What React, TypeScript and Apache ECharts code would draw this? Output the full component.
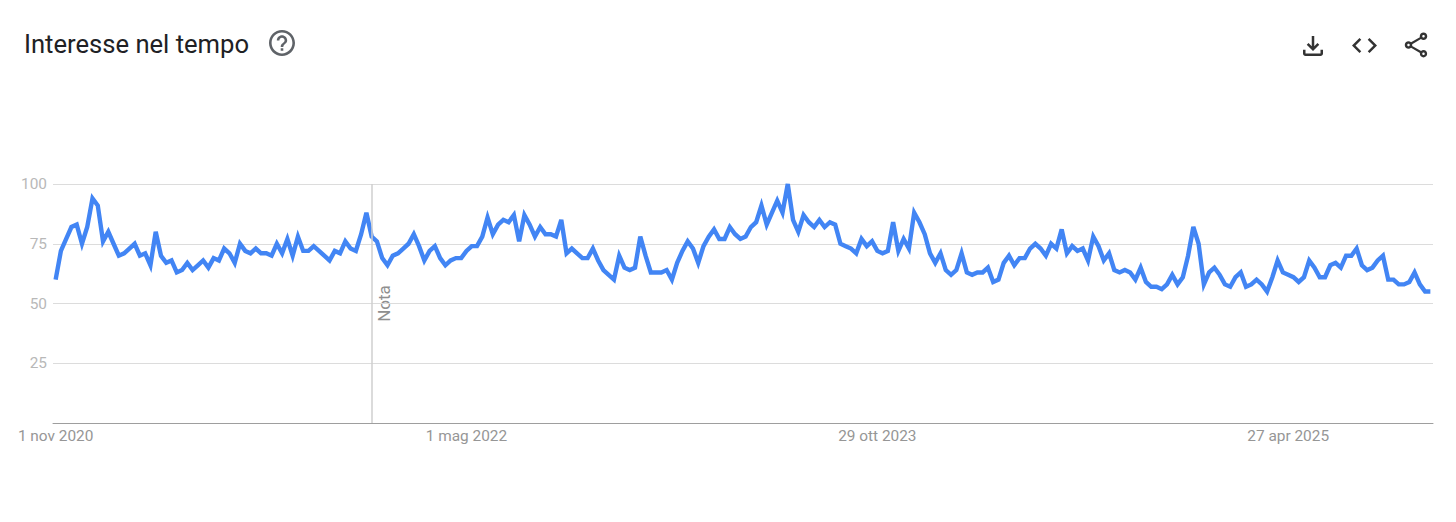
import React, { useEffect, useRef } from "react";
import * as echarts from "echarts";

const MONTHS = ["gen", "feb", "mar", "apr", "mag", "giu", "lug", "ago", "set", "ott", "nov", "dic"];
const title = "Interesse nel tempo";
const noteLabel = "Nota";
const noteIndex = 60;
const tickLabels = ["1 nov 2020", "1 mag 2022", "29 ott 2023", "27 apr 2025"];
const yTicks = [25, 50, 75, 100];

const interest = [
  60, 72, 77, 82, 83, 75, 82, 94, 91, 76, 80, 75, 70, 71, 73, 75, 70, 71, 66, 80,
  70, 67, 68, 63, 64, 67, 64, 66, 68, 65, 69, 68, 73, 71, 67, 75, 72, 71, 73, 71,
  71, 70, 75, 71, 77, 70, 78, 72, 72, 74, 72, 70, 68, 72, 71, 76, 73, 72, 79, 88,
  78, 76, 69, 66, 70, 71, 73, 75, 79, 74, 68, 72, 74, 69, 66, 68, 69, 69, 72, 74,
  74, 78, 86, 79, 83, 85, 84, 87, 76, 87, 83, 78, 82, 79, 79, 78, 85, 71, 73, 71,
  69, 69, 73, 68, 64, 62, 60, 70, 65, 64, 65, 78, 70, 63, 63, 63, 64, 60, 67, 72,
  76, 73, 67, 74, 78, 81, 77, 77, 82, 79, 77, 78, 82, 84, 91, 83, 88, 93, 88, 100,
  85, 80, 87, 84, 82, 85, 82, 84, 83, 75, 74, 73, 71, 77, 74, 76, 72, 71, 72, 84,
  72, 77, 73, 88, 84, 79, 71, 67, 71, 64, 62, 64, 71, 63, 62, 63, 63, 65, 59, 60,
  67, 70, 66, 69, 69, 73, 75, 73, 70, 75, 73, 81, 71, 74, 72, 73, 68, 78, 74, 68,
  71, 64, 63, 64, 63, 60, 65, 59, 57, 57, 56, 58, 62, 58, 61, 70, 82, 75, 58, 63,
  65, 62, 58, 57, 61, 63, 57, 58, 60, 58, 55, 61, 68, 63, 62, 61, 59, 61, 68, 65,
  61, 61, 66, 67, 65, 70, 70, 73, 66, 64, 65, 68, 70, 60, 60, 58, 58, 59, 63, 58,
  55, 55,
];

const ICONS: Record<string, string> = {
  gtHelp: "M11 18h2v-2h-2v2zm1-16C6.48 2 2 6.48 2 12s4.48 10 10 10 10-4.48 10-10S17.52 2 12 2zm0 18c-4.41 0-8-3.59-8-8s3.59-8 8-8 8 3.59 8 8-3.59 8-8 8zm0-14c-2.21 0-4 1.79-4 4h2c0-1.1.9-2 2-2s2 .9 2 2c0 2-3 1.75-3 5h2c0-2.25 3-2.5 3-5 0-2.21-1.79-4-4-4z",
  gtDownload: "M18 15v3H6v-3H4v3c0 1.1.9 2 2 2h12c1.1 0 2-.9 2-2v-3h-2zm-1-4l-1.41-1.41L13 12.17V4h-2v8.17L8.41 9.59 7 11l5 5 5-5z",
  gtCode: "M9.4 16.6L4.8 12l4.6-4.6L8 6l-6 6 6 6 1.4-1.4zm5.2 0l4.6-4.6-4.6-4.6L16 6l6 6-6 6-1.4-1.4z",
  gtShare: "M18 16.08c-.76 0-1.44.3-1.96.77L8.91 12.7c.05-.23.09-.46.09-.7s-.04-.47-.09-.7l7.05-4.11c.54.5 1.25.81 2.04.81 1.66 0 3-1.34 3-3s-1.34-3-3-3-3 1.34-3 3c0 .24.04.47.09.7L8.04 9.81C7.5 9.31 6.79 9 6 9c-1.66 0-3 1.34-3 3s1.34 3 3 3c.79 0 1.5-.31 2.04-.81l7.12 4.16c-.05.21-.08.43-.08.65 0 1.61 1.31 2.92 2.92 2.92s2.92-1.31 2.92-2.92-1.31-2.92-2.92-2.92zM18 4c.55 0 1 .45 1 1s-.45 1-1 1-1-.45-1-1 .45-1 1-1zM6 13c-.55 0-1-.45-1-1s.45-1 1-1 1 .45 1 1-.45 1-1 1zm12 7.02c-.55 0-1-.45-1-1s.45-1 1-1 1 .45 1 1-.45 1-1 1z",
};
Object.keys(ICONS).forEach((k) => echarts.graphic.registerShape(k, echarts.graphic.extendPath(ICONS[k], {}) as any));

const categories = interest.map((_, i) => {
  const d = new Date(Date.UTC(2020, 10, 1 + i * 7));
  return `${d.getUTCDate()} ${MONTHS[d.getUTCMonth()]} ${d.getUTCFullYear()}`;
});

const FONT = "Roboto";

export default function App() {
  const ref = useRef<HTMLDivElement>(null);
  useEffect(() => {
    const chart = echarts.init(ref.current!, undefined, { renderer: "svg" });
    const icon = (type: string, x: number, y: number, s: number, fill: string) => ({
      type, x, y, scaleX: s, scaleY: s, style: { fill },
    });
    chart.setOption({
      animation: false,
      backgroundColor: "#fff",
      grid: { left: 53, right: 23, top: 184, bottom: 99, containLabel: false },
      title: {
        text: title, left: 19, top: 26,
        textStyle: { fontFamily: FONT, fontSize: 25.6, fontWeight: 400, color: "#202124" },
      },
      xAxis: {
        type: "category",
        data: categories,
        boundaryGap: true,
        axisLine: { lineStyle: { color: "#9e9e9e", width: 1 } },
        axisTick: { show: false },
        splitLine: { show: false },
        axisLabel: {
          interval: (_: number, v: string) => tickLabels.includes(v),
          hideOverlap: false,
          color: "#969696", fontFamily: FONT, fontSize: 15.4, margin: 5,
        },
      },
      yAxis: {
        type: "value", min: 0, max: 100, interval: 25,
        axisLine: { show: false },
        axisTick: { show: false },
        splitLine: { lineStyle: { color: "#dcdcdc", width: 1 } },
        axisLabel: {
          formatter: (v: number) => (yTicks.includes(v) ? String(v) : ""),
          color: "#b8b8b8", fontFamily: FONT, fontSize: 15.4, margin: 6,
        },
      },
      series: [{
        type: "line",
        data: interest,
        showSymbol: false,
        smooth: false,
        clip: true,
        lineStyle: { color: "#4285f4", width: 4.4, join: "miter", cap: "butt" },
        markLine: {
          silent: true, symbol: "none", animation: false,
          label: { show: false },
          lineStyle: { color: "#cfcfcf", width: 1.5, type: "solid" },
          data: [{ xAxis: noteIndex }],
        },
        z: 3,
      }],
      graphic: [
        { type: "text", x: 384, y: 303.5, rotation: Math.PI / 2, style: { text: noteLabel, fontFamily: FONT, fontSize: 17, fill: "#8f8f8f", textAlign: "center", textVerticalAlign: "middle" } },
        icon("gtHelp", 266.4, 27.4, 1.3, "#5f6368"),
        icon("gtDownload", 1298, 31, 1.25, "#333"),
        icon("gtCode", 1349.5, 30.5, 1.25, "#333"),
        icon("gtShare", 1401, 30, 1.25, "#333"),
      ],
    });
    return () => chart.dispose();
  }, []);
  return <div ref={ref} style={{ position: "absolute", left: 0, top: 0, width: 1456, height: 522 }} />;
}
